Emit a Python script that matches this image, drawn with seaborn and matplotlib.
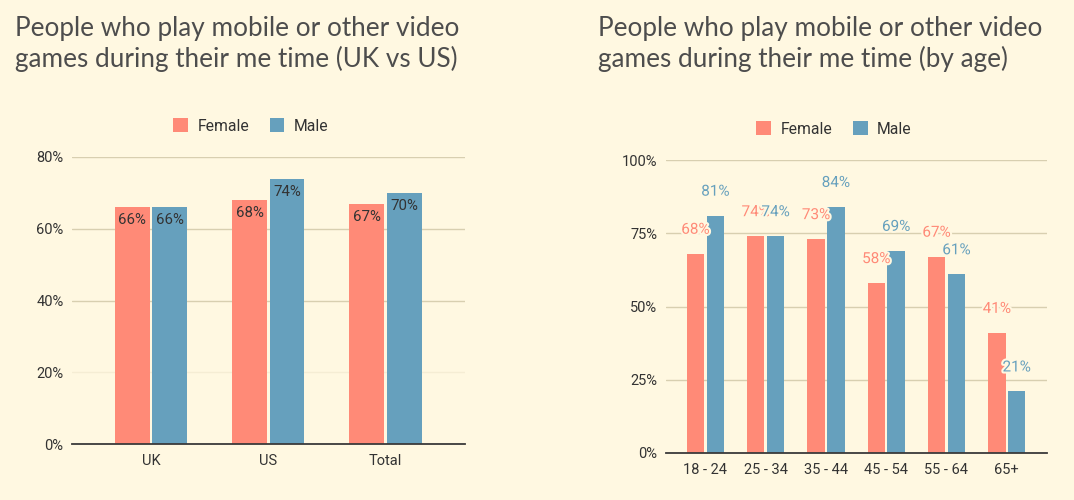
import numpy as np
import pandas as pd
import seaborn as sns
import matplotlib
matplotlib.use("Agg")
from matplotlib import pyplot as plt
from matplotlib import patheffects as pe

# data
region_groups = ["UK", "US", "Total"]
region_female = [66, 68, 67]
region_male = [66, 74, 70]

age_groups = ["18 - 24", "25 - 34", "35 - 44", "45 - 54", "55 - 64", "65+"]
age_female = [68, 74, 73, 58, 67, 41]
age_male = [81, 74, 84, 69, 61, 21]

sexes = ["Female", "Male"]
colors = {"Female": "#ff8a77", "Male": "#66a0bd"}
bg = "#fff8e1"
text_col = "#333333"

sns.set_theme(style="white")
plt.rcParams["font.family"] = ["Roboto", "DejaVu Sans"]

df_region = pd.DataFrame({
    "group": region_groups * 2,
    "sex": ["Female"] * 3 + ["Male"] * 3,
    "value": region_female + region_male,
})
df_age = pd.DataFrame({
    "group": age_groups * 2,
    "sex": ["Female"] * 6 + ["Male"] * 6,
    "value": age_female + age_male,
})

fig = plt.figure(figsize=(10.74, 5.0), dpi=100, facecolor=bg)
ax1 = fig.add_axes([0.067, 0.112, 0.366, 0.574])
ax2 = fig.add_axes([0.620, 0.094, 0.355, 0.586])


def style_axis(ax, ymax, step, xlim):
    ax.set_facecolor(bg)
    ax.set_ylim(0, ymax)
    ax.set_xlim(*xlim)
    ticks = np.arange(0, ymax + 0.1, step)
    ax.set_yticks(ticks)
    ax.set_yticklabels([f"{t:.0f}%" for t in ticks])
    ax.set_xlabel("")
    ax.set_ylabel("")
    ax.yaxis.grid(True, color="#d8cfb0", linewidth=1)
    ax.set_axisbelow(True)
    for s in ["top", "right", "left"]:
        ax.spines[s].set_visible(False)
    ax.spines["bottom"].set_color("#3a3a3a")
    ax.spines["bottom"].set_linewidth(1.3)
    ax.tick_params(axis="both", length=0, labelsize=10.5, colors=text_col)
    ax.tick_params(axis="y", pad=6)
    ax.tick_params(axis="x", pad=7)


def add_legend(ax, x, y):
    handles, labels = ax.get_legend_handles_labels()
    ax.legend(handles, labels, loc="center", bbox_to_anchor=(x, y), ncol=2,
              frameon=False, fontsize=11.3, handlelength=0.95, handleheight=0.95,
              handletextpad=0.6, columnspacing=1.3, labelcolor=text_col)


# left: UK vs US
sns.barplot(data=df_region, x="group", y="value", hue="sex", hue_order=sexes,
            palette=colors, width=0.64, gap=0.07, linewidth=0, saturation=1,
            ax=ax1)
style_axis(ax1, 80, 20, (-0.675, 2.68))
ax1.get_ygridlines()[1].set_alpha(0.25)
add_legend(ax1, 0.455, 1.108)
for cont in ax1.containers:
    for bar in cont:
        ax1.annotate(f"{bar.get_height():.0f}%",
                     xy=(bar.get_x() + bar.get_width() / 2, bar.get_height()),
                     xytext=(0, -13), textcoords="offset pixels",
                     ha="center", va="center", fontsize=10.8, color=text_col)

# right: by age
sns.barplot(data=df_age, x="group", y="value", hue="sex", hue_order=sexes,
            palette=colors, width=0.66, gap=0.12, linewidth=0, saturation=1,
            ax=ax2)
style_axis(ax2, 100, 25, (-0.656, 5.67))
add_legend(ax2, 0.441, 1.106)
for cont, sex in zip(ax2.containers, sexes):
    for bar in cont:
        ax2.annotate(f"{bar.get_height():.0f}%",
                     xy=(bar.get_x() + bar.get_width() / 2, bar.get_height()),
                     xytext=(0, 24), textcoords="offset pixels",
                     ha="center", va="center", fontsize=11, color=colors[sex],
                     path_effects=[pe.withStroke(linewidth=3, foreground=bg)])

# titles
title_font = ["Lato", "DejaVu Sans"]
fig.text(15 / 1074, 1 - 67 / 500,
         "People who play mobile or other video\ngames during their me time (UK vs US)",
         ha="left", va="baseline", fontsize=18.8, color="#4d4d4d",
         linespacing=1.25, family=title_font)
fig.text(598 / 1074, 1 - 67 / 500,
         "People who play mobile or other video\ngames during their me time (by age)",
         ha="left", va="baseline", fontsize=18.8, color="#4d4d4d",
         linespacing=1.25, family=title_font)

fig.savefig("out.png", dpi=100, facecolor=bg)
